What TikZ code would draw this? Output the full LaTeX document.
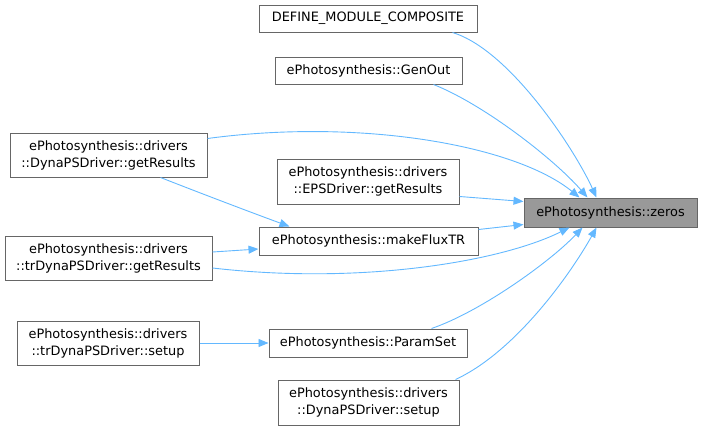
\documentclass[tikz,border=0pt]{standalone}
\usepackage{fontspec}
\setmainfont{DejaVu Sans}
\usetikzlibrary{arrows.meta}
\definecolor{edgeblue}{HTML}{63B8FF}
\definecolor{boxgray}{HTML}{666666}
\definecolor{fillgray}{HTML}{999999}
\tikzset{
  fn/.style={draw=boxgray, line width=1pt, fill=white, align=center, inner sep=0pt,
    font=\fontsize{12.9}{17}\selectfont, text=black},
  call/.style={draw=edgeblue, line width=0.9pt, -{Triangle[length=10pt,width=8pt]}},
}
\begin{document}
\begin{tikzpicture}[x=1pt,y=-1pt]
\useasboundingbox (0,0) rectangle (702,431);
\node[fn, minimum width=218pt, minimum height=27pt] (def) at (368,18.5) {DEFINE\_MODULE\_COMPOSITE};
\node[fn, minimum width=187pt, minimum height=27pt] (gen) at (368.5,70.5) {ePhotosynthesis::GenOut};
\node[fn, minimum width=197pt, minimum height=44pt] (dgr) at (108.5,155) {ePhotosynthesis::drivers\\::DynaPSDriver::getResults};
\node[fn, minimum width=182pt, minimum height=45pt] (eps) at (368,181.5) {ePhotosynthesis::drivers\\::EPSDriver::getResults};
\node[fn, minimum width=219pt, minimum height=28pt] (mflux) at (368.5,241) {ePhotosynthesis::makeFluxTR};
\node[fn, minimum width=207pt, minimum height=44pt] (tgr) at (108.5,258) {ePhotosynthesis::drivers\\::trDynaPSDriver::getResults};
\node[fn, fill=fillgray, minimum width=173pt, minimum height=29pt] (zeros) at (610.5,212.5) {ePhotosynthesis::zeros};
\node[fn, minimum width=182pt, minimum height=44pt] (tsetup) at (108,343) {ePhotosynthesis::drivers\\::trDynaPSDriver::setup};
\node[fn, minimum width=198pt, minimum height=28pt] (param) at (368,343) {ePhotosynthesis::ParamSet};
\node[fn, minimum width=181pt, minimum height=45pt] (dsetup) at (368.5,402.5) {ePhotosynthesis::drivers\\::DynaPSDriver::setup};

\draw[call] ([xshift=-25pt]def.south east) .. controls (510,50) and (575,150) .. ([xshift=73pt]zeros.north west);
\draw[call] ([xshift=-29pt]gen.south east) .. controls (485,105) and (555,160) .. ([xshift=64pt]zeros.north west);
\draw[call] ([yshift=-6pt]dgr.north east) .. controls (360,118) and (515,145) .. ([xshift=56pt]zeros.north west);
\draw[call] ([xshift=-47pt]dgr.south east) .. controls (200,193) and (250,212) .. ([xshift=31pt]mflux.north west);
\draw[call] ([yshift=8pt]eps.south east) -- ([yshift=-4pt]zeros.north west);
\draw[call] ([yshift=-3pt]mflux.north east) -- ([yshift=3pt]zeros.south west);
\draw[call] ([yshift=6pt]tgr.east) -- ([yshift=-8pt]mflux.west);
\draw[call] ([yshift=-10pt]tgr.east) .. controls (360,285) and (500,262) .. ([xshift=46pt]zeros.south west);
\draw[call] ([xshift=-36pt]param.north east) .. controls (480,312) and (550,262) .. ([xshift=59pt]zeros.south west);
\draw[call] ([xshift=-4pt]dsetup.north east) .. controls (515,352) and (570,275) .. ([xshift=73pt]zeros.south west);
\draw[call] (tsetup.east) -- (param.west);
\end{tikzpicture}
\end{document}
